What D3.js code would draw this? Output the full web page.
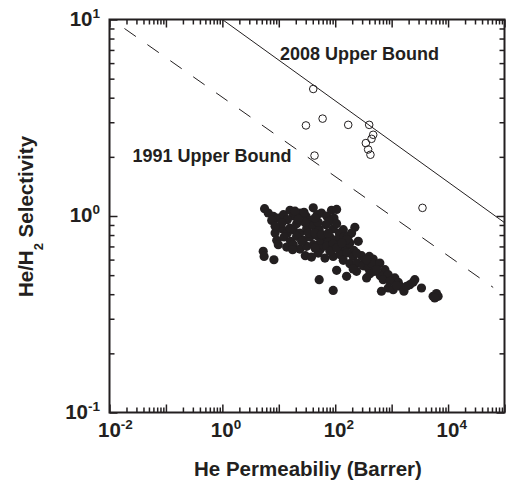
<!DOCTYPE html>
<html>
<head>
<meta charset="utf-8">
<script src="https://cdn.jsdelivr.net/npm/d3@7"></script>
<style>
  body { margin: 0; background: #fff; }
  text { font-family: "Liberation Sans", Arial, Helvetica, sans-serif; font-weight: bold; fill: #231f20; }
  .tick line { stroke: #231f20; stroke-width: 1.5; }
</style>
</head>
<body>
<div id="chart"></div>
<script>
// He permeability (Barrer) vs He/H2 selectivity
const polymerPoints = [
  [5.6,1.09],[6.5,1.036],[8.0,0.996],[9.8,0.977],[7.5,0.95],[12.1,1.016],[15.8,1.07],[18.1,1.0],[14.2,0.958],
  [23.7,1.036],[30.4,0.996],[40.8,1.1],[48,1.016],[35.7,0.95],[57,1.036],[70.5,1.0],[86,1.07],[106,1.08],
  [95,0.977],[78,0.939],[28,1.045],[19.4,1.058],
  [8.6,0.819],[11.3,0.86],[14.2,0.819],[18.1,0.852],[23.7,0.819],[31.2,0.86],[40.8,0.893],[52,0.852],[68,0.903],
  [92,0.86],[118,0.819],[223,0.876],[11.3,0.921],[20.7,0.914],[29,0.928],[50,0.928],[106,0.914],[139,0.852],[15.8,0.869],
  [9.2,0.752],[12.4,0.782],[16.2,0.743],[20.7,0.788],[27.2,0.752],[35.7,0.782],[46.8,0.795],[61.4,0.752],[80.7,0.782],
  [106,0.758],[143,0.782],[256,0.743],[53.6,0.729],[75,0.735],[182,0.729],[170,0.788],
  [13.8,0.695],[18.1,0.715],[23.7,0.679],[31.2,0.701],[40.8,0.715],[55,0.679],[70.5,0.701],[92,0.723],[121,0.679],
  [170,0.707],[213,0.668],[17.6,0.674],[149,0.661],
  [29.5,0.628],[38,0.618],[50,0.648],[65.8,0.611],[92,0.623],[121,0.636],[159,0.648],[208,0.623],[293,0.628],
  [402,0.623],[471,0.604],[336,0.599],
  [139,0.595],[182,0.572],[246,0.576],[314,0.558],[385,0.544],[540,0.554],[760,0.533],[106,0.529],[239,0.523],
  [440,0.576],[618,0.576],
  [159,0.493],[412,0.509],[504,0.523],[630,0.497],[870,0.503],[1140,0.484],[1310,0.46],[709,0.474],[930,0.465],
  [52,0.474],[360,0.484],[208,0.538],
  [92,0.418],[660,0.414],[870,0.43],[1065,0.422],[1400,0.439],[1650,0.414],[2100,0.447],[2570,0.474],[3380,0.43],
  [1840,0.439],[1220,0.442],[5430,0.39],[6230,0.403],[6660,0.39],[5800,0.383],[2400,0.46],
  [5.3,0.661],[5.5,0.623],[8.2,0.599],
  [195,0.819],[159,0.758],
  [8.6,0.886],[22.2,0.965],[43.7,0.977],[33.4,0.819],[43.7,0.819],[57,0.804],[75,0.819],[25.4,0.743],[43.7,0.687],
  [80.7,0.661],[106,0.687],[130,0.729],
  [9.8,0.715],[239,0.648],[360,0.599],[540,0.533]
];

const newPoints = [
  [40.8,4.43],[30.3,2.89],[59.8,3.13],[170,2.91],[400,2.91],[471,2.59],
  [440,2.47],[349,2.35],[383,2.18],[421,2.05],[43,2.03],[3520,1.10]
];

const bound2008 = [[1, 10], [1e5, 0.925]];
const bound1991 = [[0.0184, 9.0], [63000, 0.433]];

const xLabelExps = [-2, 0, 2, 4];
const yLabelExps = [-1, 0, 1];

const width = 510, height = 483;
const margin = {left: 109.5, top: 19.5, right: 5.5, bottom: 70.5};

var x = d3.scaleLog().domain([1e-2, 1e5]).range([margin.left, width - margin.right]);
var y = d3.scaleLog().domain([0.1, 10]).range([height - margin.bottom, margin.top]);

var svg = d3.select("#chart").append("svg")
    .attr("width", width)
    .attr("height", height);

var xMajor = d3.range(-2, 6).map(e => Math.pow(10, e));
var xMinor = [];
d3.range(-2, 5).forEach(e => { for (let m = 2; m <= 9; m++) xMinor.push(m * Math.pow(10, e)); });
var yMajor = [0.1, 1, 10];
var yMinor = [];
[-1, 0].forEach(e => { for (let m = 2; m <= 9; m++) yMinor.push(m * Math.pow(10, e)); });

function addAxis(axis, transform, values, size) {
    svg.append("g")
        .attr("transform", transform)
        .call(axis.tickValues(values).tickSize(-size).tickFormat(""))
        .call(g => g.select(".domain").remove());
}

const yBottom = y(0.1), yTop = y(10), xLeft = x(1e-2), xRight = x(1e5);

addAxis(d3.axisBottom(x), `translate(0,${yBottom})`, xMinor, 5);
addAxis(d3.axisBottom(x), `translate(0,${yBottom})`, xMajor, 8);
addAxis(d3.axisTop(x), `translate(0,${yTop})`, xMinor, 5);
addAxis(d3.axisTop(x), `translate(0,${yTop})`, xMajor, 8);
addAxis(d3.axisLeft(y), `translate(${xLeft},0)`, yMinor, 5);
addAxis(d3.axisLeft(y), `translate(${xLeft},0)`, yMajor, 8);
addAxis(d3.axisRight(y), `translate(${xRight},0)`, yMinor, 5);
addAxis(d3.axisRight(y), `translate(${xRight},0)`, yMajor, 8);

svg.append("rect")
    .attr("x", xLeft).attr("y", yTop)
    .attr("width", xRight - xLeft).attr("height", yBottom - yTop)
    .attr("fill", "none")
    .attr("stroke", "#231f20")
    .attr("stroke-width", 2);

// tick labels as 10^n
var xl = svg.selectAll(".xlab").data(xLabelExps).enter().append("text")
    .attr("class", "xlab")
    .attr("x", d => x(Math.pow(10, d)) - 11.5)
    .attr("y", yBottom + 24.5)
    .style("font-size", "20.5px");
xl.append("tspan").text("10");
xl.append("tspan").attr("dy", -8).style("font-size", "13.5px").text(d => d < 0 ? "-" + (-d) : d);

var yl = svg.selectAll(".ylab").data(yLabelExps).enter().append("text")
    .attr("class", "ylab")
    .attr("x", 100)
    .attr("y", d => y(Math.pow(10, d)) + 6)
    .attr("text-anchor", "end")
    .style("font-size", "20.5px");
yl.append("tspan").text("10");
yl.append("tspan").attr("dy", -8).style("font-size", "13.5px").text(d => d < 0 ? "-" + (-d) : d);

// upper bound lines
var line = d3.line().x(d => x(d[0])).y(d => y(d[1]));

svg.append("path")
    .attr("d", line(bound2008))
    .attr("fill", "none")
    .attr("stroke", "#231f20")
    .attr("stroke-width", 1);

svg.append("path")
    .attr("d", line(bound1991))
    .attr("fill", "none")
    .attr("stroke", "#231f20")
    .attr("stroke-width", 1)
    .attr("stroke-dasharray", "14,14");

svg.selectAll(".pt").data(polymerPoints).enter().append("circle")
    .attr("class", "pt")
    .attr("cx", d => x(d[0]))
    .attr("cy", d => y(d[1]))
    .attr("r", 4.6)
    .attr("fill", "#231f20");

svg.selectAll(".np").data(newPoints).enter().append("circle")
    .attr("class", "np")
    .attr("cx", d => x(d[0]))
    .attr("cy", d => y(d[1]))
    .attr("r", 3.8)
    .attr("fill", "none")
    .attr("stroke", "#231f20")
    .attr("stroke-width", 1);

svg.append("text")
    .attr("x", 280).attr("y", 59.5)
    .style("font-size", "18px")
    .text("2008 Upper Bound");

svg.append("text")
    .attr("x", 132.5).attr("y", 162)
    .style("font-size", "18px")
    .text("1991 Upper Bound");

svg.append("text")
    .attr("x", 308).attr("y", 476)
    .attr("text-anchor", "middle")
    .style("font-size", "20.5px")
    .text("He Permeabiliy (Barrer)");

var yTitle = svg.append("text")
    .attr("transform", "translate(33,216.5) rotate(-90)")
    .attr("text-anchor", "middle")
    .style("font-size", "20.5px");
yTitle.append("tspan").text("He/H");
yTitle.append("tspan").attr("dy", 10).style("font-size", "13px").text("2");
yTitle.append("tspan").attr("dy", -10).text(" Selectivity");
</script>
</body>
</html>
